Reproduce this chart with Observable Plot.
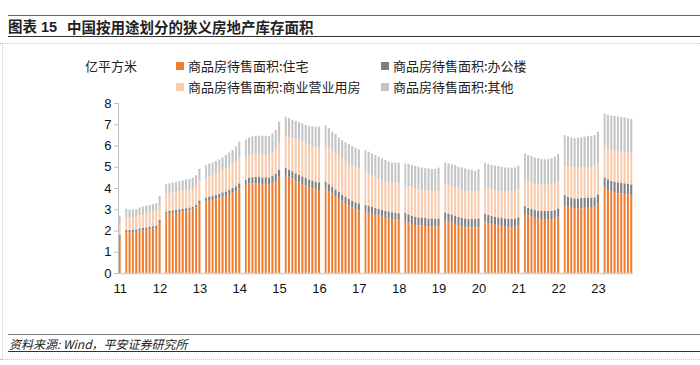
<!DOCTYPE html>
<html>
<head>
<meta charset="utf-8">
<script src="https://cdn.jsdelivr.net/npm/d3@7"></script>
<script src="https://cdn.jsdelivr.net/npm/@observablehq/plot@0.6"></script>
<style>
  body { margin: 0; background: #fff; }
  #wrap { position: relative; width: 700px; height: 365px; overflow: hidden; background: #fff;
          font-family: "Liberation Sans", "Noto Sans CJK SC", sans-serif; color: #222; }
  .abs { position: absolute; }
  .hline { position: absolute; left: 8px; right: 0; }
  .leg { position: absolute; font-size: 13px; line-height: 16px; white-space: nowrap; color: #222;
         font-family: "Noto Sans CJK SC", sans-serif; }
  .sw { display: inline-block; width: 8px; height: 8px; margin-right: 4px; vertical-align: 1px; }
</style>
</head>
<body>
<div id="wrap">
  <div class="hline" style="top:15px;height:0;border-top:1.5px solid #666;"></div>
  <div class="abs" style="left:8px;top:18px;font-size:14.5px;font-weight:bold;line-height:18px;font-family:'Liberation Sans','Noto Sans CJK SC',sans-serif;">图表 15</div>
  <div class="abs" style="left:67px;top:18px;font-size:14.5px;font-weight:bold;line-height:18px;font-family:'Noto Sans CJK SC',sans-serif;">中国按用途划分的狭义房地产库存面积</div>
  <div class="hline" style="top:36px;height:0;border-top:1.5px solid #333;"></div>
  <div class="abs" style="left:0;right:0;top:43px;height:0;border-top:1px dotted #c8c8c8;"></div>
  <div class="abs" style="left:2px;top:43px;bottom:5px;width:0;border-left:1px dotted #c8c8c8;"></div>

  <div id="chart" class="abs" style="left:0;top:0;"></div>

  <div class="leg" style="left:85px;top:58px;">亿平方米</div>
  <div id="legend"></div>

  <div class="hline" style="top:334px;height:0;border-top:1.5px solid #777;"></div>
  <div class="abs" style="left:9px;top:336px;font-size:12px;line-height:15px;font-style:italic;font-family:'Noto Sans CJK SC',sans-serif;">资料来源: Wind，平安证券研究所</div>
  <div class="hline" style="top:351px;height:0;border-top:1.5px solid #333;"></div>
  <div class="abs" style="left:0;right:0;top:359px;height:0;border-top:1px dotted #c8c8c8;"></div>
</div>
<script>
// ---- series (亿平方米), month-end values: Dec 2011, then Feb–Dec of 2012..2023, then Feb–Oct 2024 ----
const seriesNames = ["商品房待售面积:住宅", "商品房待售面积:办公楼", "商品房待售面积:商业营业用房", "商品房待售面积:其他"];
const seriesColors = ["#EE7D31", "#808080", "#F8CBAD", "#C4C4C4"];

const yearMonths = [
  [2011, [12]],
  [2012, [2,3,4,5,6,7,8,9,10,11,12]],
  [2013, [2,3,4,5,6,7,8,9,10,11,12]],
  [2014, [2,3,4,5,6,7,8,9,10,11,12]],
  [2015, [2,3,4,5,6,7,8,9,10,11,12]],
  [2016, [2,3,4,5,6,7,8,9,10,11,12]],
  [2017, [2,3,4,5,6,7,8,9,10,11,12]],
  [2018, [2,3,4,5,6,7,8,9,10,11,12]],
  [2019, [2,3,4,5,6,7,8,9,10,11,12]],
  [2020, [2,3,4,5,6,7,8,9,10,11,12]],
  [2021, [2,3,4,5,6,7,8,9,10,11,12]],
  [2022, [2,3,4,5,6,7,8,9,10,11,12]],
  [2023, [2,3,4,5,6,7,8,9,10,11,12]],
  [2024, [2,3,4,5,6,7,8,9,10]]
];

const residential = [
  1.66,
  1.92,1.91,1.92,1.94,1.99,2.01,2.03,2.06,2.09,2.12,2.36,
  2.76,2.79,2.81,2.83,2.86,2.89,2.91,2.94,2.98,3.08,3.25,
  3.36,3.41,3.44,3.47,3.52,3.60,3.64,3.71,3.78,3.86,4.00,
  4.14,4.22,4.22,4.22,4.22,4.19,4.19,4.17,4.25,4.34,4.53,
  4.61,4.53,4.45,4.34,4.26,4.19,4.11,4.03,3.98,3.93,3.90,
  3.98,3.86,3.74,3.62,3.50,3.38,3.29,3.18,3.09,3.01,2.95,
  2.89,2.84,2.79,2.74,2.70,2.65,2.60,2.57,2.54,2.51,2.49,
  2.45,2.38,2.31,2.26,2.24,2.23,2.21,2.21,2.20,2.19,2.21,
  2.46,2.42,2.37,2.31,2.26,2.21,2.18,2.15,2.15,2.15,2.18,
  2.42,2.34,2.31,2.27,2.24,2.21,2.18,2.16,2.15,2.18,2.24,
  2.78,2.70,2.65,2.60,2.56,2.54,2.54,2.54,2.54,2.57,2.65,
  3.20,3.12,3.07,3.04,3.04,3.04,3.07,3.07,3.09,3.12,3.28,
  4.02,3.91,3.83,3.80,3.75,3.75,3.72,3.70,3.67
];
const office = [
  0.12,
  0.11,0.11,0.11,0.11,0.11,0.11,0.11,0.11,0.11,0.12,0.14,
  0.14,0.14,0.14,0.14,0.14,0.14,0.14,0.14,0.14,0.14,0.17,
  0.19,0.19,0.20,0.21,0.21,0.20,0.20,0.21,0.22,0.22,0.22,
  0.24,0.27,0.29,0.30,0.30,0.31,0.32,0.33,0.34,0.34,0.33,
  0.33,0.33,0.34,0.35,0.36,0.36,0.36,0.37,0.37,0.37,0.37,
  0.32,0.32,0.31,0.31,0.31,0.30,0.30,0.30,0.31,0.32,0.33,
  0.31,0.31,0.32,0.32,0.32,0.32,0.32,0.32,0.32,0.32,0.32,
  0.39,0.38,0.39,0.39,0.38,0.37,0.38,0.36,0.37,0.37,0.36,
  0.39,0.38,0.39,0.39,0.39,0.39,0.39,0.39,0.39,0.39,0.39,
  0.36,0.39,0.37,0.38,0.38,0.39,0.39,0.40,0.39,0.38,0.38,
  0.37,0.37,0.36,0.36,0.37,0.38,0.38,0.38,0.39,0.39,0.39,
  0.47,0.47,0.48,0.47,0.47,0.49,0.46,0.48,0.46,0.44,0.42,
  0.48,0.50,0.50,0.50,0.52,0.50,0.50,0.49,0.50
];
const commercial = [
  0.58,
  0.59,0.60,0.60,0.61,0.62,0.64,0.66,0.67,0.68,0.68,0.70,
  0.82,0.83,0.85,0.85,0.86,0.87,0.87,0.87,0.88,0.88,0.93,
  0.90,0.93,0.94,0.98,1.01,1.05,1.08,1.11,1.15,1.19,1.25,
  1.02,1.04,1.06,1.07,1.07,1.06,1.05,1.09,1.09,1.15,1.26,
  1.51,1.52,1.55,1.62,1.61,1.64,1.65,1.64,1.61,1.63,1.64,
  1.68,1.68,1.68,1.69,1.69,1.71,1.69,1.70,1.68,1.67,1.64,
  1.57,1.54,1.50,1.47,1.43,1.41,1.41,1.41,1.41,1.42,1.41,
  1.30,1.33,1.36,1.35,1.33,1.30,1.29,1.30,1.29,1.30,1.33,
  1.32,1.33,1.33,1.32,1.33,1.30,1.30,1.29,1.29,1.29,1.30,
  1.25,1.25,1.26,1.26,1.25,1.26,1.26,1.27,1.29,1.30,1.32,
  1.23,1.26,1.24,1.23,1.24,1.24,1.22,1.24,1.26,1.26,1.29,
  1.41,1.45,1.45,1.45,1.45,1.43,1.44,1.42,1.45,1.48,1.46,
  1.45,1.46,1.46,1.46,1.44,1.46,1.46,1.47,1.46
];
const other = [
  0.34,
  0.40,0.36,0.35,0.34,0.36,0.36,0.37,0.36,0.36,0.36,0.42,
  0.46,0.46,0.45,0.46,0.46,0.46,0.48,0.47,0.48,0.50,0.55,
  0.63,0.62,0.62,0.61,0.61,0.59,0.63,0.64,0.64,0.68,0.71,
  0.89,0.85,0.86,0.87,0.87,0.90,0.90,0.86,0.89,0.90,1.00,
  0.91,0.91,0.86,0.84,0.86,0.85,0.84,0.88,0.93,0.96,0.98,
  0.98,0.95,0.92,0.92,0.88,0.87,0.87,0.88,0.90,0.90,0.90,
  1.02,1.02,1.02,1.02,1.02,1.01,0.99,0.94,0.92,0.94,0.97,
  1.02,1.04,1.02,1.03,1.05,1.06,1.05,1.05,1.03,1.03,1.06,
  1.02,1.03,1.04,1.06,1.02,1.07,1.05,1.05,1.02,0.99,1.02,
  1.16,1.15,1.14,1.14,1.17,1.14,1.14,1.13,1.13,1.11,1.11,
  1.25,1.22,1.26,1.25,1.23,1.20,1.21,1.19,1.21,1.25,1.27,
  1.41,1.38,1.38,1.38,1.41,1.42,1.45,1.48,1.46,1.45,1.49,
  1.56,1.57,1.61,1.63,1.65,1.62,1.65,1.62,1.62
];
const yearTicks = [2011,2012,2013,2014,2015,2016,2017,2018,2019,2020,2021,2022,2023];
const yTicks = [0,1,2,3,4,5,6,7,8];

// ---- build tidy table ----
const months = [];
for (const [yr, ms] of yearMonths) for (const m of ms) months.push(new Date(Date.UTC(yr, m - 1, 1)));
const valuesBySeries = [residential, office, commercial, other];
const data = [];
months.forEach((d, i) => {
  seriesNames.forEach((s, k) => data.push({date: d, series: s, value: valuesBySeries[k][i]}));
});
const tickDates = yearTicks.map(y => new Date(Date.UTC(y, 11, 16)));

const chart = Plot.plot({
  width: 700,
  height: 300,
  marginLeft: 118,
  marginRight: 67,
  marginTop: 103,
  marginBottom: 27,
  style: {fontFamily: "'Liberation Sans', Arial, sans-serif", fontSize: "13px", color: "#111", background: "transparent"},
  x: {type: "utc", domain: [new Date(Date.UTC(2011, 11, 1)), new Date(Date.UTC(2024, 10, 1))]},
  y: {domain: [0, 8]},
  color: {domain: seriesNames, range: seriesColors},
  marks: [
    Plot.rectY(data, {x: "date", interval: "month", y: "value", fill: "series", order: seriesNames,
                      insetLeft: 0.6, insetRight: 0.7}),
    Plot.ruleY([0], {stroke: "#d0d0d0", strokeWidth: 1.5}),
    Plot.frame({anchor: "left", stroke: "#c0c0c0"}),
    Plot.axisY({ticks: yTicks, tickSize: 4, tickPadding: 3, stroke: "#c0c0c0", label: null, fontSize: 13}),
    Plot.axisX({ticks: tickDates, tickFormat: d3.utcFormat("%y"), tickSize: 0, tickPadding: 10, label: null, fontSize: 13})
  ]
});
document.getElementById("chart").appendChild(chart);

// ---- legend ----
const legPos = [[176, 58], [381, 58], [176, 79], [381, 79]];
const legend = document.getElementById("legend");
seriesNames.forEach((s, k) => {
  const el = document.createElement("div");
  el.className = "leg";
  el.style.left = legPos[k][0] + "px";
  el.style.top = legPos[k][1] + "px";
  el.innerHTML = `<span class="sw" style="background:${seriesColors[k]}"></span>${s}`;
  legend.appendChild(el);
});
</script>
</body>
</html>
